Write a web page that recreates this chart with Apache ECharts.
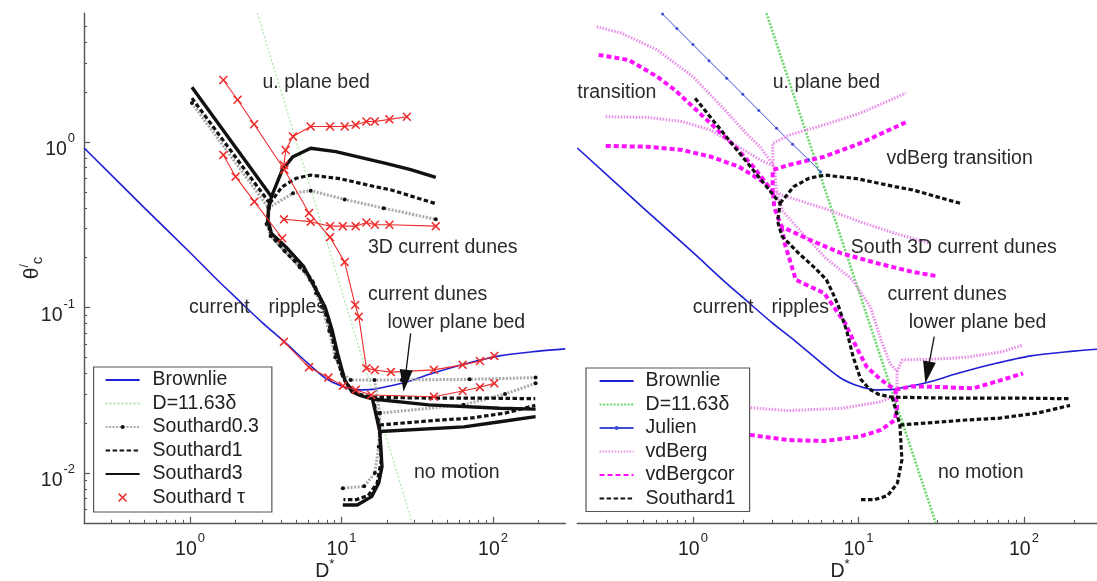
<!DOCTYPE html>
<html>
<head>
<meta charset="utf-8">
<script src="https://cdn.jsdelivr.net/npm/echarts@6/dist/echarts.min.js"></script>
<style>
  html, body { margin: 0; padding: 0; background: #fff; }
  #chart { width: 1097px; height: 581px; }
</style>
</head>
<body>
<div id="chart"></div>
<script>
// ---- axis ranges (D* horizontally, theta'_c vertically, both logarithmic) ----
const xMin = 0.2, xMax = 300;
const yMin = 0.005, yMax = 6;
const xTickDecades = [0, 1, 2];
const yTickDecades = [0, -1, -2];

// ---- curves, as [D*, theta'_c] points ----
const brownlie = [[0.2,0.92],[0.5,0.40],[1,0.215],[1.5,0.148],[2,0.115],[3,0.081],[4.2,0.062],[6,0.046],[7.8,0.0375],[10,0.0335],[12.6,0.0318],[16,0.032],[20,0.0333],[26,0.0352],[40,0.040],[65,0.0455],[110,0.051],[200,0.0545],[300,0.0562]];

// D = 11.63 delta (grain size equal to the viscous sublayer)
const sublayerLine = [[2.78,6.0],[29.3,0.005]];

const southard03 = [
  [[1.03,1.72],[3.3,0.40],[3.2,0.32],[3.4,0.27],[4.2,0.22],[5.3,0.175],[6.2,0.147],[6.8,0.122],[7.4,0.101],[8.3,0.072],[9.1,0.05],[10.1,0.04],[11.5,0.0365],[25,0.0365],[70,0.0368],[191,0.0377]],
  [[3.3,0.40],[4.78,0.49],[6.26,0.508],[10.5,0.45],[19,0.398],[41.9,0.341]],
  [[16.5,0.0365],[17.9,0.023],[17.6,0.0144],[16.6,0.0100],[14.1,0.0083],[10.2,0.0081]],
  [[17.9,0.023],[64,0.0258],[120,0.030],[191,0.0348]]
];

const southard1 = [
  [[1.03,1.84],[3.36,0.426],[3.25,0.33],[3.45,0.27],[4.3,0.215],[5.5,0.172],[6.4,0.147],[7.0,0.122],[7.6,0.101],[8.5,0.072],[9.3,0.05],[10.3,0.037],[11.6,0.0322],[13.3,0.0298],[16,0.0287],[40,0.0283],[100,0.0283],[190,0.0281]],
  [[3.36,0.426],[4.06,0.537],[5.04,0.604],[6.25,0.631],[9.8,0.6],[16.6,0.537],[21.3,0.513],[41.8,0.424]],
  [[16,0.0287],[17.8,0.0195],[18.3,0.012],[17.2,0.0087],[15,0.0073],[12.5,0.0069],[10.3,0.0069]],
  [[17.8,0.0195],[44.8,0.0209],[70,0.0214],[120,0.023],[190,0.0256]]
];

const southard3 = [
  [[1.03,2.14],[3.45,0.467],[3.3,0.40],[3.27,0.338],[3.45,0.28],[4.28,0.233],[5.62,0.177],[6.26,0.147],[6.98,0.122],[7.78,0.101],[8.67,0.073],[9.42,0.0528],[10.5,0.0365],[11.7,0.031],[13.4,0.0293],[16,0.028],[37.6,0.0258],[111,0.0246],[191,0.0243]],
  [[3.45,0.467],[4.06,0.677],[4.78,0.815],[6.26,0.916],[9.16,0.874],[19.6,0.743],[28.6,0.68],[41.9,0.612]],
  [[16,0.028],[17.9,0.0178],[18.5,0.0109],[17.6,0.0087],[15.8,0.0072],[12.7,0.0064],[10.2,0.0064]],
  [[17.9,0.0178],[64.3,0.019],[111,0.0204],[191,0.0219]]
];

const southardTau = [
  [[1.66,2.37],[2.06,1.80],[2.65,1.28],[4.2,0.68],[6.1,0.372],[8.4,0.266],[10.5,0.188],[12.3,0.1035],[13.0,0.088],[14.6,0.043],[16.6,0.0419],[21.2,0.0407],[40.7,0.042],[63,0.045],[82,0.0475],[102,0.051]],
  [[1.66,0.835],[2.0,0.617],[2.66,0.436],[4.06,0.262]],
  [[4.17,0.341],[6.26,0.33],[8.4,0.31],[10.2,0.31],[12.4,0.31],[14.6,0.326],[16.6,0.316],[20.7,0.316],[41.9,0.31]],
  [[4.17,0.726],[4.28,0.895],[4.78,1.08],[6.26,1.24],[8.4,1.24],[10.5,1.24],[12.4,1.27],[14.6,1.33],[16.6,1.33],[20.7,1.37],[27,1.42]],
  [[4.17,0.062],[6.1,0.0435],[8.2,0.0377],[10.2,0.0336],[12.4,0.0318],[15.7,0.0296],[40.7,0.0289],[63,0.0313],[82,0.033],[102,0.0348]]
];

const julien = [[0.655,5.93],[0.8,4.85],[1.0,3.88],[1.25,3.1],[1.6,2.43],[2.0,1.94],[2.5,1.55],[3.2,1.21],[4.0,0.97],[5.0,0.78],[5.9,0.662]];

const vdBerg = [
  [[0.262,4.97],[0.371,4.54],[0.608,3.6],[1.0,2.48],[1.56,1.56],[2.09,1.13],[2.54,0.937],[3.11,0.71]],
  [[0.297,1.42],[0.525,1.41],[0.86,1.33],[1.28,1.18],[1.89,0.937],[2.55,0.778],[3.11,0.71]],
  [[3.11,0.71],[3.18,0.537],[3.2,0.5],[3.5,0.38],[4.6,0.28],[6.3,0.2],[8.0,0.165],[9.2,0.147],[11.8,0.101],[13.7,0.0636],[15.5,0.046],[17.1,0.041],[17.1,0.0296],[13.7,0.027],[7.94,0.0246],[3.79,0.0238],[2.1,0.0249]],
  [[3.05,0.71],[3.03,0.98],[3.79,1.10],[6.21,1.27],[10.2,1.49],[19.3,1.97]],
  [[3.2,0.5],[3.43,0.478],[6.21,0.397],[10.2,0.33],[16.7,0.28],[27.3,0.244]],
  [[17.1,0.041],[18.4,0.0482],[27.3,0.0486],[44.8,0.05],[73.5,0.054],[98.8,0.0593]]
];

const vdBergCor = [
  [[0.269,3.36],[0.409,3.13],[0.608,2.48],[0.778,2.06],[1.0,1.63],[1.41,1.18],[1.8,0.937],[2.31,0.71],[2.68,0.589],[3.05,0.49]],
  [[0.297,0.946],[0.525,0.937],[0.86,0.895],[1.28,0.815],[1.89,0.71],[2.55,0.589],[3.03,0.513]],
  [[3.03,0.49],[3.03,0.677],[3.79,0.726],[6.21,0.815],[10.2,0.98],[19.8,1.33]],
  [[3.05,0.49],[3.1,0.40],[3.43,0.308],[5.09,0.256],[7.94,0.212],[13.0,0.185],[21.3,0.164],[29.4,0.155]],
  [[3.43,0.308],[3.6,0.24],[3.9,0.185],[4.18,0.147],[6.21,0.122],[8.34,0.08],[9.68,0.058],[11.2,0.0438],[13.7,0.0365],[16.7,0.0318],[17.1,0.0251],[16.6,0.0209],[13.7,0.0182],[10.2,0.0166],[6.21,0.0156],[3.79,0.0158],[2.1,0.0171]],
  [[16.7,0.0318],[21,0.0334],[27.3,0.0332],[49.5,0.0325],[73.5,0.0365],[98.8,0.04]]
];

// arrows pointing at the lower plane bed field: [tail, arrow-head centre]
const lowerBedArrowL = [[28.6,0.0698],[26.2,0.0361]];
const lowerBedArrowR = [[28.7,0.0666],[26.1,0.0405]];

// ---- layout & styling ----
const FONT = '"Liberation Sans", Arial, sans-serif';
const INK = '#222';
const AXIS = '#555';
const FS = 19.5;

const gridL = { left: 84.1, top: 13.2, width: 481.2, height: 509.6, outerBoundsMode: 'none', containLabel: false };
const gridR = { left: 577.3, top: 13.2, width: 525.6, height: 509.6, outerBoundsMode: 'none', containLabel: false };

const regionLabels = [
  ['u. plane bed', 262.5, 83], ['3D current dunes', 368, 248], ['current dunes', 368, 295],
  ['current', 189, 308], ['ripples', 268.6, 308], ['lower plane bed', 387.5, 323], ['no motion', 414, 473],
  ['transition', 577.3, 93], ['u. plane bed', 772.7, 83], ['vdBerg transition', 886.4, 159],
  ['South 3D current dunes', 850.8, 248], ['current dunes', 887.4, 295],
  ['current', 692.8, 308], ['ripples', 771.6, 308], ['lower plane bed', 908.7, 323], ['no motion', 937.9, 473]
];

const CROSS = 'path://M0,1.2L1.2,0L5,3.8L8.8,0L10,1.2L6.2,5L10,8.8L8.8,10L5,6.2L1.2,10L0,8.8L3.8,5Z';

function minorLogTicks(lo, hi) {
  const out = [];
  for (let k = Math.floor(lo); k <= Math.ceil(hi); k++) {
    for (let m = 2; m <= 9; m++) {
      const v = k + Math.log10(m);
      if (v > lo && v < hi) out.push(v);
    }
  }
  return out;
}

const powRich = {
  b: { fontSize: FS, fontFamily: FONT, color: INK, lineHeight: 28, verticalAlign: 'bottom' },
  s: { fontSize: 13, fontFamily: FONT, color: INK, lineHeight: 8, verticalAlign: 'top', padding: [0, 0, 0, 1] }
};
const powFmt = v => '{b|10}{s|' + Math.round(v) + '}';

const lx0 = Math.log10(xMin), lx1 = Math.log10(xMax);
const ly0 = Math.log10(yMin), ly1 = Math.log10(yMax);

const noLine = { show: false, onZero: false };

function xAxesFor(gridIndex) {
  return [
    { type: 'log', logBase: 10, gridIndex, min: xMin, max: xMax, position: 'bottom',
      axisLine: { show: true, onZero: false, lineStyle: { color: AXIS, width: 1.4 } },
      axisTick: { show: false }, axisLabel: { show: false }, splitLine: { show: false },
      name: '{a|D}{s|*}', nameLocation: 'middle', nameGap: 47,
      nameTextStyle: { verticalAlign: 'middle', rich: {
        a: { fontSize: FS, fontFamily: FONT, color: INK, lineHeight: 24, verticalAlign: 'bottom' },
        s: { fontSize: 13, fontFamily: FONT, color: INK, lineHeight: 8, verticalAlign: 'top' } } } },
    { type: 'value', gridIndex, min: lx0, max: lx1, position: 'bottom',
      axisLine: noLine, splitLine: { show: false },
      axisTick: { show: true, inside: true, length: 6, customValues: xTickDecades, lineStyle: { color: AXIS, width: 1.2 } },
      axisLabel: { show: true, customValues: xTickDecades, formatter: powFmt, margin: 9, rich: powRich } },
    { type: 'value', gridIndex, min: lx0, max: lx1, position: 'bottom',
      axisLine: noLine, splitLine: { show: false }, axisLabel: { show: false },
      axisTick: { show: true, inside: true, length: 3, customValues: minorLogTicks(lx0, lx1), lineStyle: { color: AXIS, width: 1 } } }
  ];
}

const yAxes = [
  { type: 'log', logBase: 10, gridIndex: 0, min: yMin, max: yMax, position: 'left',
    axisLine: { show: true, onZero: false, lineStyle: { color: AXIS, width: 1.4 } },
    axisTick: { show: false }, axisLabel: { show: false }, splitLine: { show: false },
    name: '{t|θ}{p|/}{c|c}', nameLocation: 'middle', nameRotate: 90, nameGap: 52,
    nameTextStyle: { align: 'center', verticalAlign: 'middle', rich: {
      t: { fontSize: 21, fontFamily: FONT, color: INK, lineHeight: 26, verticalAlign: 'middle' },
      p: { fontSize: 12, fontFamily: FONT, color: INK, lineHeight: 12, verticalAlign: 'top' },
      c: { fontSize: 15, fontFamily: FONT, color: INK, lineHeight: 12, verticalAlign: 'bottom' } } } },
  { type: 'value', gridIndex: 0, min: ly0, max: ly1, position: 'left',
    axisLine: noLine, splitLine: { show: false },
    axisTick: { show: true, inside: true, length: 6, customValues: yTickDecades, lineStyle: { color: AXIS, width: 1.2 } },
    axisLabel: { show: true, customValues: yTickDecades, formatter: powFmt, margin: 9, padding: [8, 0, 0, 0], rich: powRich } },
  { type: 'value', gridIndex: 0, min: ly0, max: ly1, position: 'left',
    axisLine: noLine, splitLine: { show: false }, axisLabel: { show: false },
    axisTick: { show: true, inside: true, length: 3, customValues: minorLogTicks(ly0, ly1), lineStyle: { color: AXIS, width: 1 } } },
  { type: 'log', logBase: 10, gridIndex: 1, min: yMin, max: yMax, show: false, axisLine: noLine }
];

const styles = {
  brownlie: { lineStyle: { color: '#1f1fd6', width: 1.6 }, itemStyle: { color: '#1f1fd6' }, smooth: 0.3 },
  greenL: { lineStyle: { color: '#a8e6a8', width: 1.2, type: [2, 2] }, itemStyle: { color: '#a8e6a8' } },
  greenR: { lineStyle: { color: '#6ad86a', width: 2.6, type: [2, 1.5] }, itemStyle: { color: '#6ad86a' } },
  s03: { lineStyle: { color: '#a9a9a9', width: 3, type: [2, 1.5] }, symbol: 'circle', symbolSize: 4, itemStyle: { color: '#111' } },
  s1: { lineStyle: { color: '#111', width: 3.2, type: [4.5, 2.5], cap: 'butt' }, itemStyle: { color: '#111' } },
  s3: { lineStyle: { color: '#111', width: 3.4 }, itemStyle: { color: '#111' } },
  tau: { lineStyle: { color: '#ee2b2b', width: 1.1 }, symbol: CROSS, symbolSize: 9, itemStyle: { color: '#ee2b2b' } },
  julien: { lineStyle: { color: '#3d4fd6', width: 1 }, symbol: 'circle', symbolSize: 3, itemStyle: { color: '#3d4fd6' } },
  vdberg: { lineStyle: { color: '#e98de9', width: 3, type: [1.5, 1.5] }, itemStyle: { color: '#e98de9' } },
  vdbergcor: { lineStyle: { color: '#ff11ff', width: 4, type: [5, 3], cap: 'butt' }, itemStyle: { color: '#ff11ff' } }
};

function lines(name, segments, xi, yi, style, extra) {
  return segments.map((d, i) => Object.assign({
    type: 'line', name, data: d, xAxisIndex: xi, yAxisIndex: yi,
    symbol: 'none', animation: false, silent: true, clip: true
  }, style, i === 0 ? (extra || {}) : {}));
}

function arrow(coords) {
  return { markLine: {
    silent: true, animation: false, symbol: ['none', 'triangle'], symbolSize: [13, 22],
    label: { show: false }, lineStyle: { color: '#111', width: 1.3, type: 'solid' },
    data: [[{ coord: coords[0] }, { coord: coords[1] }]]
  } };
}

const RB = ' (b)';
const series = [].concat(
  lines('D=11.63δ', [sublayerLine], 0, 0, styles.greenL),
  lines('Brownlie', [brownlie], 0, 0, styles.brownlie, arrow(lowerBedArrowL)),
  lines('Southard0.3', southard03, 0, 0, styles.s03),
  lines('Southard1', southard1, 0, 0, styles.s1),
  lines('Southard3', southard3, 0, 0, styles.s3),
  lines('Southard τ', southardTau, 0, 0, styles.tau),
  lines('D=11.63δ' + RB, [sublayerLine], 3, 3, styles.greenR),
  lines('Brownlie' + RB, [brownlie], 3, 3, styles.brownlie, arrow(lowerBedArrowR)),
  lines('Julien' + RB, [julien], 3, 3, styles.julien),
  lines('vdBerg' + RB, vdBerg, 3, 3, styles.vdberg),
  lines('vdBergcor' + RB, vdBergCor, 3, 3, styles.vdbergcor),
  lines('Southard1' + RB, southard1, 3, 3, styles.s1)
);

const legendText = { fontSize: FS, fontFamily: FONT, color: INK, lineHeight: 20, padding: [0, 0, 0, 8] };
const hideMark = { itemStyle: { opacity: 0 } };
const legendBase = {
  orient: 'vertical', itemWidth: 34, itemHeight: 5, itemGap: 3.5, selectedMode: false,
  textStyle: legendText
};

const legends = [
  Object.assign({}, legendBase, {
    left: 93.6, top: 367, padding: [3, 13, 28, 11],
    borderColor: AXIS, borderWidth: 1.2, backgroundColor: '#fff',
    data: [
      Object.assign({ name: 'Brownlie' }, hideMark),
      Object.assign({ name: 'D=11.63δ' }, hideMark),
      { name: 'Southard0.3' },
      Object.assign({ name: 'Southard1' }, hideMark),
      Object.assign({ name: 'Southard3' }, hideMark)
    ]
  }),
  Object.assign({}, legendBase, {
    left: 93.6, top: 487.5, padding: [0, 0, 0, 11], itemHeight: 11,
    data: [{ name: 'Southard τ', lineStyle: { opacity: 0 } }]
  }),
  Object.assign({}, legendBase, {
    left: 586, top: 368, padding: [3, 14, 3, 12.6],
    textStyle: Object.assign({}, legendText, { padding: [0, 0, 0, 7] }),
    borderColor: AXIS, borderWidth: 1.2, backgroundColor: '#fff',
    formatter: n => n.replace(RB, ''),
    data: [
      Object.assign({ name: 'Brownlie' + RB }, hideMark),
      Object.assign({ name: 'D=11.63δ' + RB }, hideMark),
      { name: 'Julien' + RB },
      Object.assign({ name: 'vdBerg' + RB }, hideMark),
      Object.assign({ name: 'vdBergcor' + RB }, hideMark),
      Object.assign({ name: 'Southard1' + RB }, hideMark)
    ]
  })
];

const graphics = regionLabels.map(([text, x, y]) => ({
  type: 'text', x, y, z: 50, silent: true,
  style: { text, fontSize: FS, fontFamily: FONT, fill: '#2a2a2a', verticalAlign: 'middle', align: 'left' }
}));

const chart = echarts.init(document.getElementById('chart'), null, { renderer: 'canvas' });
chart.setOption({
  backgroundColor: '#fff',
  animation: false,
  grid: [gridL, gridR],
  xAxis: [].concat(xAxesFor(0), xAxesFor(1)),
  yAxis: yAxes,
  legend: legends,
  graphic: graphics,
  series
});
</script>
</body>
</html>
